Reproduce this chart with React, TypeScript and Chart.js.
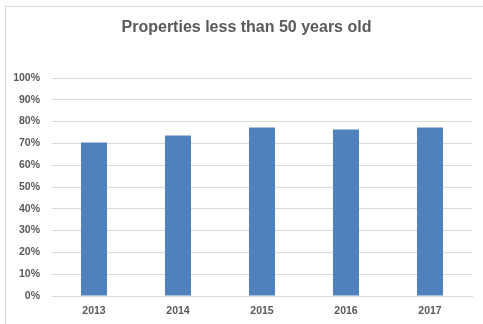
import React, { useEffect, useRef } from "react";
import { Chart, registerables } from "chart.js";

Chart.register(...registerables);

const categories = ["2013", "2014", "2015", "2016", "2017"];
const values = [0.704, 0.736, 0.773, 0.764, 0.773];
const titleText = "Properties less than 50 years old";

export default function App() {
  const ref = useRef<HTMLCanvasElement | null>(null);

  useEffect(() => {
    if (!ref.current) return;
    const chart = new Chart(ref.current, {
      type: "bar",
      data: {
        labels: categories,
        datasets: [
          {
            data: values,
            backgroundColor: "#4F81BD",
            borderWidth: 0,
            barPercentage: 0.31,
            categoryPercentage: 1,
          },
        ],
      },
      options: {
        responsive: false,
        animation: false,
        layout: { padding: { left: 0, right: 11, top: 78, bottom: 0 } },
        plugins: {
          legend: { display: false },
          tooltip: { enabled: false },
          title: { display: false },
        },
        scales: {
          x: {
            grid: { display: false, drawTicks: false },
            border: { display: true, color: "#D9D9D9" },
            ticks: {
              color: "#595959",
              font: { family: "Liberation Sans", size: 10.5, weight: "bold" },
              padding: 9,
              maxRotation: 0,
            },
            afterFit: (s: any) => {
              s.height = 28;
            },
          },
          y: {
            min: 0,
            max: 1,
            grid: { color: "#D9D9D9", drawTicks: false },
            border: { display: false },
            ticks: {
              stepSize: 0.1,
              color: "#595959",
              font: { family: "Liberation Sans", size: 10.5, weight: "bold" },
              padding: 12,
              callback: (v: any) => Math.round(Number(v) * 100) + "%",
            },
            afterFit: (s: any) => {
              s.width = 52;
            },
          },
        },
      },
    });
    return () => chart.destroy();
  }, []);

  return (
    <div
      style={{
        position: "fixed",
        left: 0,
        top: 0,
        width: 483,
        height: 324,
        background: "#fff",
      }}
    >
      <canvas ref={ref} width={483} height={324} style={{ position: "absolute", left: 0, top: 0 }} />
      <div
        style={{
          position: "absolute",
          left: 5,
          top: 6,
          width: 483,
          height: 324,
          borderLeft: "1px solid #D9D9D9",
          borderTop: "1px solid #D9D9D9",
          pointerEvents: "none",
        }}
      />
      <div
        style={{
          position: "absolute",
          left: 5,
          top: 17,
          width: 483,
          textAlign: "center",
          fontFamily: "Liberation Sans",
          fontWeight: "bold",
          fontSize: 16,
          lineHeight: "19px",
          color: "#595959",
          whiteSpace: "nowrap",
        }}
      >
        {titleText}
      </div>
    </div>
  );
}
